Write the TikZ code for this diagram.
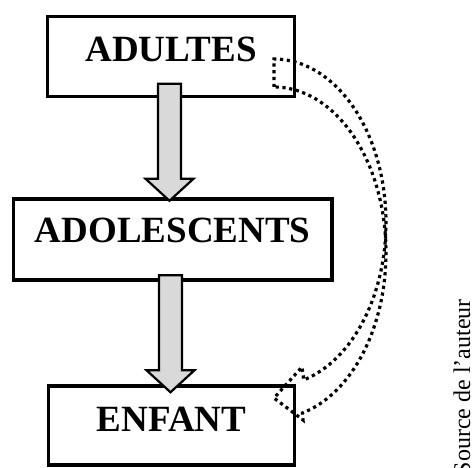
\documentclass[tikz,border=0pt]{standalone}
\usepackage{fontspec}
\setmainfont{Liberation Serif}
\usetikzlibrary{calc}
\definecolor{arrowgray}{HTML}{D9D9D9}
\tikzset{
  stagebox/.style={draw=black, line width=3.5pt, fill=white, rectangle, inner sep=0pt,
    font=\bfseries\fontsize{37}{40}\selectfont},
  blockarrow/.style={draw=black, line width=2.2pt, fill=arrowgray, line join=miter},
  dotline/.style={draw=black, line width=3.2pt, dash pattern=on 3.2pt off 3.6pt, line cap=butt},
  sourcetext/.style={font=\fontsize{24}{27}\selectfont, rotate=90, inner sep=0pt}
}
\begin{document}
\begin{tikzpicture}[x=1pt, y=-1pt]
\useasboundingbox (0,0) rectangle (475,468);
% boxes
\node[stagebox, minimum width=247pt, minimum height=80pt, text height=45.5pt, text depth=34.5pt] (adultes) at (171,56.5) {ADULTES};
\node[stagebox, minimum width=318.5pt, minimum height=81pt, text height=44pt, text depth=37pt] (ado) at (172.7,239.5) {ADOLESCENTS};
\node[stagebox, minimum width=246pt, minimum height=79pt, text height=46pt, text depth=33pt] (enfant) at (171.5,425.5) {ENFANT};
% block arrows
\coordinate (a1s) at ($(adultes.south)+(-1.5,-14.5)$);
\coordinate (a1t) at ($(a1s |- ado.north)+(0,3.5)$);
\draw[blockarrow] ($(a1s)+(-11.5,0)$) -- ($(a1s)+(11.5,0)$) -- ($(a1t)+(11.5,-22)$) -- ($(a1t)+(24,-22)$) -- (a1t) -- ($(a1t)+(-24,-22)$) -- ($(a1t)+(-11.5,-22)$) -- cycle;
\coordinate (a2s) at ($(ado.south)+(-2.2,-6.5)$);
\coordinate (a2t) at ($(a2s |- enfant.north)+(0,8)$);
\draw[blockarrow] ($(a2s)+(-11.5,0)$) -- ($(a2s)+(11.5,0)$) -- ($(a2t)+(11.5,-22)$) -- ($(a2t)+(24,-22)$) -- (a2t) -- ($(a2t)+(-24,-22)$) -- ($(a2t)+(-11.5,-22)$) -- cycle;
% dotted curved arrow
\draw[dotline] (274,87) -- (274,59)
  -- plot[domain=90:-74.6, samples=70] ({274+112*cos(\x)},{222.4-163.4*sin(\x)})
  -- (302,367) -- (274,398) -- (303,420)
  -- plot[domain=-75.3:90, samples=70] ({274+112*cos(\x)},{252.7-165.7*sin(\x)})
  -- cycle;
% source
\node[sourcetext, anchor=base east] (src) at (470,299) {Source de l’auteur};
\end{tikzpicture}
\end{document}
